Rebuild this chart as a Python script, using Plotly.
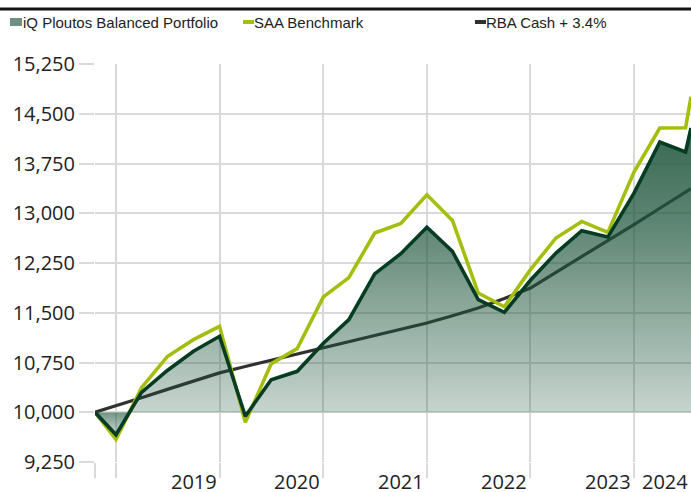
import plotly.graph_objects as go

# ---------------- data ----------------
DATES = ["2018-10-18", "2018-12-31",
         "2019-03-31", "2019-06-30", "2019-09-30", "2019-12-31",
         "2020-03-31", "2020-06-30", "2020-09-30", "2020-12-31",
         "2021-03-31", "2021-06-30", "2021-09-30", "2021-12-31",
         "2022-03-31", "2022-06-30", "2022-09-30", "2022-12-31",
         "2023-03-31", "2023-06-30", "2023-09-30", "2023-12-31",
         "2024-03-31", "2024-06-30", "2024-07-19"]

PORTFOLIO = [10000, 9660, 10300, 10630, 10920, 11145,
             9940, 10490, 10617, 11040,
             11396, 12085, 12390, 12790,
             12425, 11697, 11506, 11990,
             12400, 12736, 12641, 13304,
             14074, 13924, 14285]

SAA = [10000, 9590, 10370, 10840, 11095, 11295,
       9850, 10730, 10960, 11740,
       12030, 12702, 12845, 13279,
       12892, 11798, 11590, 12150,
       12627, 12877, 12711, 13620,
       14285, 14290, 14754]

RBA = [10000, 10095, 10220, 10345, 10470, 10593,
       10690, 10785, 10878, 10970,
       11062, 11155, 11250, 11346,
       11455, 11572, 11715, 11873,
       12110, 12345, 12585, 12830,
       13075, 13320, 13370]

BASE_VALUE = 10000
SERIES_NAMES = ["iQ Ploutos Balanced Portfolio", "SAA Benchmark", "RBA Cash + 3.4%"]
Y_TICKS = [9250, 10000, 10750, 11500, 12250, 13000, 13750, 14500, 15250]
GRID_DATES = [DATES[0], "2018-12-31", "2019-12-31", "2020-12-31",
              "2021-12-31", "2022-12-31", "2023-12-31"]
YEAR_LABELS = ["2019", "2020", "2021", "2022", "2023", "2024"]
YEAR_LABEL_DATES = ["2019-12-31", "2020-12-31", "2021-12-31",
                    "2022-12-31", "2023-12-31", DATES[-1]]

# ---------------- style / layout ----------------
W, H = 691, 492
PL, PT, PB = 95, 64, 462     # plot-area edges in pixels
ML, MT, MB, MR = PL, PT, H - PB, 0
PW, PH = W - ML - MR, H - MT - MB

DARK = "#063d22"
LIME = "#a4be0e"
CHAR = "#303030"
GRID = "#d9d9d9"
TXT = "#222222"
FILL_RGB = "30,85,60"


def px(xs):
    return (xs - PL) / PW


def py(ys):
    return (PB - ys) / PH


lo, hi = min(PORTFOLIO), max(PORTFOLIO)
f = (BASE_VALUE - lo) / (hi - lo)
colorscale = [
    [0.0, f"rgba({FILL_RGB},0.22)"],
    [f - 0.002, f"rgba({FILL_RGB},0.62)"],
    [f, f"rgba({FILL_RGB},0.25)"],
    [f + 0.65 * (1 - f), f"rgba({FILL_RGB},0.71)"],
    [1.0, f"rgba({FILL_RGB},0.89)"],
]

fig = go.Figure()

fig.add_trace(go.Scatter(x=DATES, y=RBA, mode="lines", name=SERIES_NAMES[2],
                         line=dict(color=CHAR, width=3.2), hoverinfo="skip"))
fig.add_trace(go.Scatter(x=DATES, y=[BASE_VALUE] * len(DATES), mode="lines",
                         line=dict(width=0, color="rgba(0,0,0,0)"),
                         showlegend=False, hoverinfo="skip"))
fig.add_trace(go.Scatter(x=DATES, y=PORTFOLIO, mode="lines", fill="tonexty",
                         line=dict(width=0, color="rgba(0,0,0,0)"),
                         fillgradient=dict(type="vertical", colorscale=colorscale,
                                           start=lo, stop=hi),
                         showlegend=False, hoverinfo="skip"))
fig.add_trace(go.Scatter(x=DATES, y=SAA, mode="lines", name=SERIES_NAMES[1],
                         line=dict(color=LIME, width=3.6)))
fig.add_trace(go.Scatter(x=DATES, y=PORTFOLIO, mode="lines", name=SERIES_NAMES[0],
                         line=dict(color=DARK, width=3.6)))

shapes = [
    dict(type="line", xref="paper", yref="paper", x0=px(0), x1=px(W),
         y0=py(9), y1=py(9), line=dict(color="#111111", width=3)),
    dict(type="rect", xref="paper", yref="paper", x0=px(10), x1=px(22),
         y0=py(26), y1=py(18), line=dict(width=0), fillcolor="#6f8f80"),
    dict(type="rect", xref="paper", yref="paper", x0=px(243), x1=px(254),
         y0=py(24), y1=py(20), line=dict(width=0), fillcolor=LIME),
    dict(type="rect", xref="paper", yref="paper", x0=px(475), x1=px(486),
         y0=py(24), y1=py(20), line=dict(width=0), fillcolor=CHAR),
]

legend_font = dict(family="Liberation Sans", size=15, color=TXT)
annotations = []
for name, x0 in zip(SERIES_NAMES, [22, 253, 485]):
    annotations.append(dict(text=name, xref="paper", yref="paper", x=px(x0), y=py(22),
                            xanchor="left", yanchor="middle", showarrow=False,
                            font=legend_font, borderpad=0))
for lab, d in zip(YEAR_LABELS, YEAR_LABEL_DATES):
    annotations.append(dict(text=lab, xref="x", yref="paper", x=d, y=py(467),
                            xanchor="right", yanchor="top", showarrow=False,
                            font=dict(family="Open Sans", size=20, color=TXT),
                            borderpad=0, xshift=-2))

fig.update_layout(
    width=W, height=H,
    margin=dict(l=ML, r=MR, t=MT, b=MB, pad=0),
    paper_bgcolor="white", plot_bgcolor="white",
    showlegend=False, hovermode=False,
    shapes=shapes, annotations=annotations,
    xaxis=dict(type="date", range=[DATES[0], DATES[-1]],
               tickmode="array", tickvals=GRID_DATES, showticklabels=False,
               ticks="outside", ticklen=15, tickwidth=2, tickcolor=GRID,
               showgrid=True, gridcolor=GRID, gridwidth=2,
               zeroline=False, showline=False),
    yaxis=dict(range=[Y_TICKS[0], Y_TICKS[-1]], tickmode="array", tickvals=Y_TICKS,
               tickformat=",", ticks="outside", ticklen=15, tickwidth=2, tickcolor=GRID,
               showgrid=True, gridcolor=GRID, gridwidth=2,
               zeroline=False, showline=False, ticklabelstandoff=0,
               tickfont=dict(family="Open Sans", size=20, color=TXT)),
)

fig.write_html("out.html",
               config={"displayModeBar": False, "staticPlot": True},
               post_script="document.body.style.margin='0';"
                           "document.body.style.overflow='hidden';")
